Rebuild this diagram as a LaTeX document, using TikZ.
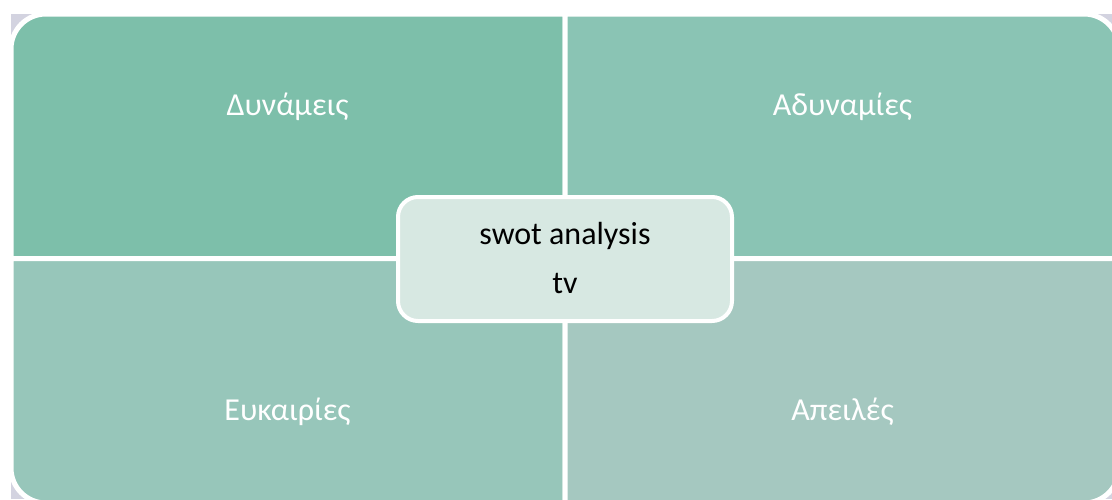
\documentclass[tikz,border=0pt]{standalone}
\usepackage{fontspec}
\setmainfont{Carlito}
\definecolor{lav}{HTML}{D3D3E0}
\definecolor{qtl}{HTML}{7DBFAA}
\definecolor{qtr}{HTML}{8AC4B4}
\definecolor{qbl}{HTML}{97C6BA}
\definecolor{qbr}{HTML}{A5C8C0}
\definecolor{core}{HTML}{D7E8E2}
\tikzset{
  quad/.style={draw=white, line width=5pt},
  qlabel/.style={text=white, font=\fontsize{32}{38}\selectfont, anchor=base, inner sep=0pt},
  clabel/.style={text=black, font=\fontsize{32}{38}\selectfont, anchor=base, inner sep=0pt},
  corebox/.style={draw=white, line width=4pt, fill=core, rounded corners=20pt, minimum width=334pt, minimum height=124pt, inner sep=0pt}
}
\begin{document}
\begin{tikzpicture}[x=1pt,y=1pt]
\useasboundingbox (0,0) rectangle (1112,-499);
\clip (0,0) rectangle (1112,-499);
\fill[white] (0,0) rectangle (1112,-499);
\fill[lav] (11,-14) rectangle (1112,-499);
% quadrants
\path[quad, fill=qtl] (11,-258.5) -- (11,-49) arc[start angle=180,end angle=90,radius=35pt] -- (565,-14) -- (565,-258.5) -- cycle;
\path[quad, fill=qtr] (565,-258.5) -- (565,-14) -- (1084,-14) arc[start angle=90,end angle=0,radius=35pt] -- (1119,-258.5) -- cycle;
\path[quad, fill=qbl] (11,-258.5) -- (565,-258.5) -- (565,-503) -- (46,-503) arc[start angle=270,end angle=180,radius=35pt] -- cycle;
\path[quad, fill=qbr] (565,-258.5) -- (1119,-258.5) -- (1119,-468) arc[start angle=0,end angle=-90,radius=35pt] -- (565,-503) -- cycle;
% labels
\node[qlabel] (s) at (287.5,-115) {Δυνάμεις};
\node[qlabel] (w) at (842.5,-115) {Αδυναμίες};
\node[qlabel] (o) at (287.5,-420) {Ευκαιρίες};
\node[qlabel] (t) at (842.5,-420) {Απειλές};
% center
\node[corebox] (c) at (565,-259) {};
\node[clabel] (c1) at (565,-244) {swot analysis};
\node[clabel] (c2) at (565,-293) {tv};
\end{tikzpicture}
\end{document}
